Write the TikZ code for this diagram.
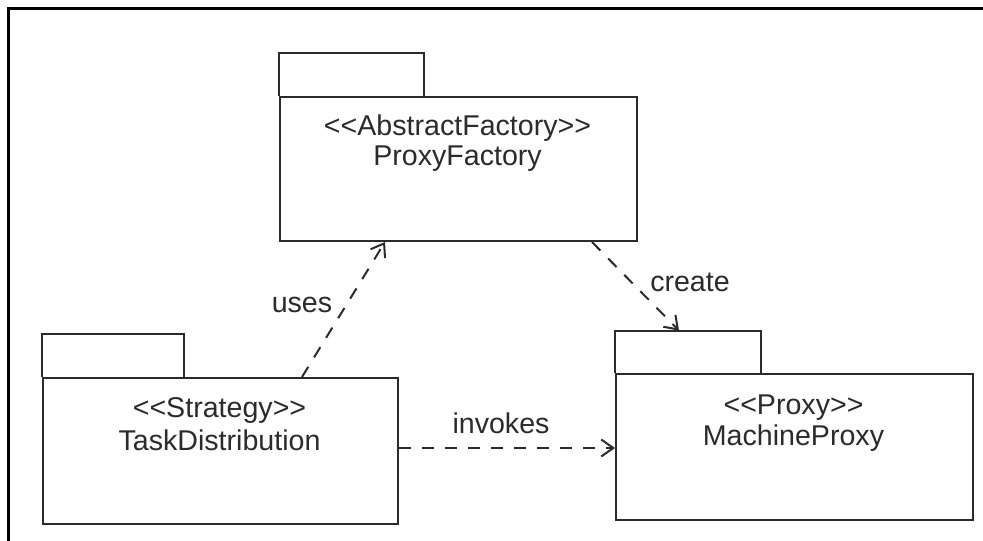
\documentclass[tikz,border=0pt]{standalone}
\usepackage{fontspec}
\setmainfont{Liberation Sans}
\usetikzlibrary{arrows.meta,calc}
\definecolor{ink}{HTML}{2B2B2B}
\begin{document}
\begin{tikzpicture}[x=1pt,y=-1pt,
  body/.style={draw=ink, line width=2pt, rectangle, inner sep=0pt, anchor=north west},
  tab/.style={rectangle, inner sep=0pt, anchor=south west, minimum width=145pt, minimum height=43pt},
  tabline/.style={draw=ink, line width=2pt, line join=miter},
  txt/.style={text=ink, inner sep=0pt, font=\fontsize{28.6}{31}\selectfont},
  dep/.style={draw=ink, line width=2pt, dash pattern=on 12pt off 11pt, -{Straight Barb[length=12pt,width=17pt,line width=2pt]}}
]
\useasboundingbox (0,0) rectangle (983,541);
\fill[white] (0,0) rectangle (983,541);
% frame
\draw[line width=3pt, black] (8,541) -- (8,8) -- (983,8);

% ProxyFactory
\node[body, minimum width=357pt, minimum height=144pt] (pf) at (279,96) {};
\node[tab] (pftab) at (279,96) {};
\draw[tabline] (pftab.south west) -- (pftab.north west) -- (pftab.north east) -- (pftab.south east);
\node[txt] (pfs) at (457.5,128) {{<}{<}AbstractFactory{>}{>}};
\node[txt] (pfn) at (457.5,159) {ProxyFactory};

% TaskDistribution
\node[body, minimum width=355pt, minimum height=146pt] (td) at (42,377) {};
\node[tab, minimum width=142pt] (tdtab) at (42,377) {};
\draw[tabline] (tdtab.south west) -- (tdtab.north west) -- (tdtab.north east) -- (tdtab.south east);
\node[txt] (tds) at (219.5,410) {{<}{<}Strategy{>}{>}};
\node[txt] (tdn) at (219.5,440) {TaskDistribution};

% MachineProxy
\node[body, minimum width=357pt, minimum height=146pt] (mp) at (615,373) {};
\node[tab, minimum width=146pt, minimum height=42pt] (mptab) at (615,373) {};
\draw[tabline] (mptab.south west) -- (mptab.north west) -- (mptab.north east) -- (mptab.south east);
\node[txt] (mps) at (793.5,408) {{<}{<}Proxy{>}{>}};
\node[txt] (mpn) at (793.5,438) {MachineProxy};

% connectors
\coordinate (uA) at ($(td.north west)+(260,0)$);
\coordinate (uB) at ($(pf.south west)+(106,0)$);
\draw[dep] (uA) -- (uB);
\node[txt] (luses) at (302,305) {uses};

\coordinate (cA) at ($(pf.south west)+(313,0)$);
\coordinate (cB) at ($(mptab.north west)+(64,0)$);
\draw[dep] (cA) -- (cB);
\node[txt] (lcreate) at (690,282) {create};

\coordinate (iA) at ($(td.north east)+(0,71)$);
\coordinate (iB) at (iA -| mp.west);
\draw[dep] (iA) -- (iB);
\node[txt] (linvokes) at (501,423) {invokes};
\end{tikzpicture}
\end{document}
